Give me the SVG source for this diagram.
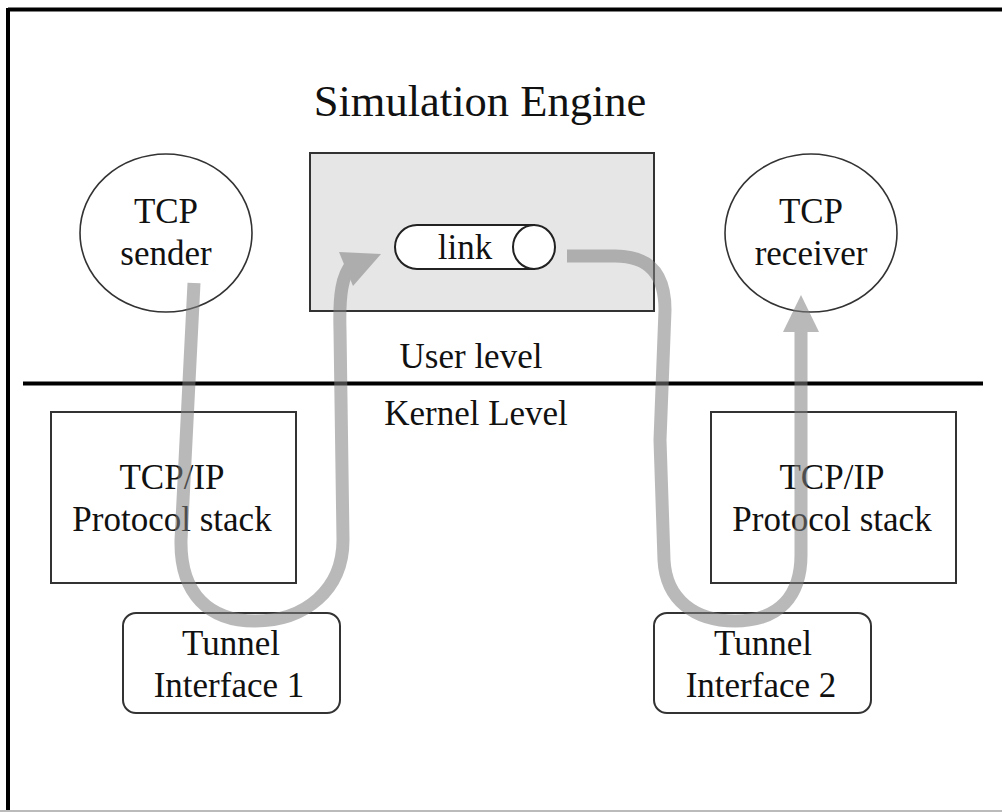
<svg xmlns="http://www.w3.org/2000/svg" width="1002" height="812" viewBox="0 0 1002 812">
<style>
.lbl{font-size:35px}
.box{fill:none;stroke:#333;stroke-width:2}
.ell{fill:none;stroke:#333;stroke-width:1.6}
.flow{fill:none;stroke:#808080;stroke-width:13;stroke-linejoin:round}
.head{fill:#808080}
</style>
<rect width="1002" height="812" fill="#fff"/>
<g id="frame">
<line x1="8" y1="9.5" x2="1002" y2="9.5" stroke="#000" stroke-width="4"/>
<line x1="8" y1="8" x2="8" y2="812" stroke="#000" stroke-width="4"/>
<line x1="0" y1="811" x2="1002" y2="811" stroke="#bbb" stroke-width="2"/>
</g>
<g font-family="'Liberation Serif', 'Times New Roman', 'DejaVu Serif', serif" fill="#111" text-anchor="middle">
<g id="title"><text x="480" y="116" font-size="44.5">Simulation Engine</text></g>
<g id="engine">
<rect x="310" y="153" width="344" height="158" fill="#e6e6e6" stroke="#333" stroke-width="2"/>
</g>
<g id="link">
<path d="M534,225 L417,225 A22,22 0 0 0 417,269 L534,269 Z" fill="#fff" stroke="#222" stroke-width="2"/>
<ellipse cx="534" cy="247" rx="21" ry="22" fill="#fff" stroke="#222" stroke-width="2"/>
<text class="lbl" x="465" y="259">link</text>
</g>
<g id="tcp-sender">
<ellipse class="ell" cx="166" cy="233" rx="86" ry="79"/>
<text class="lbl" x="166" y="223">TCP</text>
<text class="lbl" x="166" y="265">sender</text>
</g>
<g id="tcp-receiver">
<ellipse class="ell" cx="811" cy="233" rx="86" ry="79"/>
<text class="lbl" x="811" y="223">TCP</text>
<text class="lbl" x="811" y="265">receiver</text>
</g>
<g id="divider">
<line x1="23" y1="383.5" x2="983" y2="383.5" stroke="#000" stroke-width="4"/>
<text class="lbl" x="471" y="368">User level</text>
<text class="lbl" x="476" y="425">Kernel Level</text>
</g>
<g id="stack-left">
<rect class="box" x="51" y="412" width="245" height="171"/>
<text class="lbl" x="172" y="489">TCP/IP</text>
<text class="lbl" x="172" y="531">Protocol stack</text>
</g>
<g id="stack-right">
<rect class="box" x="711" y="412" width="245" height="171"/>
<text class="lbl" x="832" y="489">TCP/IP</text>
<text class="lbl" x="832" y="531">Protocol stack</text>
</g>
<g id="tunnel-1">
<rect class="box" x="123" y="613" width="217" height="100" rx="13"/>
<text class="lbl" x="231" y="655">Tunnel</text>
<text class="lbl" x="229" y="697">Interface 1</text>
</g>
<g id="tunnel-2">
<rect class="box" x="654" y="613" width="217" height="100" rx="13"/>
<text class="lbl" x="763" y="655">Tunnel</text>
<text class="lbl" x="761" y="697">Interface 2</text>
</g>
</g>
<g id="connectors" opacity="0.55">
<path class="flow" d="M194,283 L181,540 C180,595 210,621 255,621 C305,621 343,590 343,540 L340,330 C339,295 342,275 352,264"/>
<polygon class="head" points="339,252 381,254 353,286"/>
<path class="flow" d="M567,256 L615,256 C650,256 665,275 665,310 L660,440 L664,560 C666,600 695,621 735,621 C780,621 801,595 801,555 L801,330"/>
<polygon class="head" points="783,332 801,295 819,332"/>
</g>
</svg>
